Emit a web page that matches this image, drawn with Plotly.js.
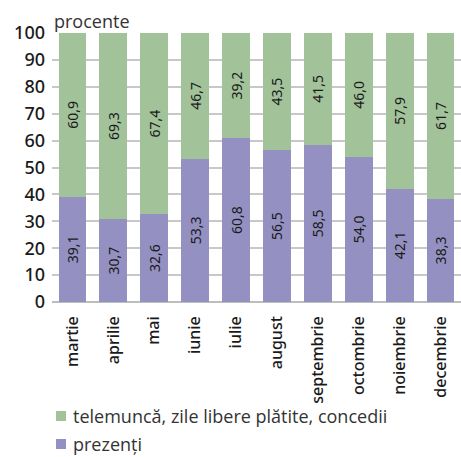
<!DOCTYPE html>
<html><head><meta charset="utf-8">
<script src="https://cdn.plot.ly/plotly-3.0.1.min.js"></script>
<style>html,body{margin:0;padding:0;background:#fff}#c{width:461px;height:457px}</style>
</head><body><div id="c"></div>
<script>
const months = ["martie","aprilie","mai","iunie","iulie","august","septembrie","octombrie","noiembrie","decembrie"];
const prezenti = [39.1,30.7,32.6,53.3,60.8,56.5,58.5,54.0,42.1,38.3];
const telemunca = [60.9,69.3,67.4,46.7,39.2,43.5,41.5,46.0,57.9,61.7];
const yTicks = [0,10,20,30,40,50,60,70,80,90,100];
const seriesNames = ['prezenți', 'telemuncă, zile libere plătite, concedii'];
const seriesColors = ['#9491c2', '#a2c29a'];
const cond = "Noto Sans";
const common = {type:'bar', x: months, texttemplate:'%{y:.1f}', textposition:'inside',
  insidetextanchor:'middle', textangle:-90, textfont:{family:cond, size:14, color:'#1a1a1a'},
  constraintext:'none', hoverinfo:'skip', showlegend:false};
const data = [
  Object.assign({}, common, {y: prezenti, name: seriesNames[0], marker:{color: seriesColors[0]}}),
  Object.assign({}, common, {y: telemunca, name: seriesNames[1], marker:{color: seriesColors[1]}})
];
// legend drawn in paper coordinates (plot: x 52..461 px, y 33..302 px)
const px = p => (p - 52) / 409;
const py = p => (302 - p) / 269;
const legendRows = [{i:1, cy:416}, {i:0, cy:444}];
const shapes = legendRows.map(r => ({type:'rect', xref:'paper', yref:'paper',
  x0: px(56), x1: px(66), y0: py(r.cy + 5), y1: py(r.cy - 5), fillcolor: seriesColors[r.i], line:{width:0}}));
const legendAnn = legendRows.map(r => ({text: seriesNames[r.i], xref:'paper', yref:'paper', x: px(71), y: py(r.cy),
  xanchor:'left', yanchor:'middle', showarrow:false, font:{family:"Open Sans", size:18, color:'#333'}}));
const layout = {
  width:461, height:457, barmode:'stack', bargap:0.32,
  separators:', ',
  margin:{l:52,r:0,t:33,b:155},
  paper_bgcolor:'#fff', plot_bgcolor:'#fff',
  font:{family:cond, color:'#1a1a1a'},
  showlegend:false,
  xaxis:{tickangle:-90, tickfont:{family:cond, size:16, weight:500, color:'#1a1a1a'}, showgrid:false, zeroline:false,
    showline:false, ticks:'', ticklabelstandoff:10, automargin:false},
  yaxis:{range:[0,100], tickvals:yTicks, ticktext:yTicks.map(String), tickfont:{family:cond, size:18, weight:500, color:'#1a1a1a'},
    showgrid:true, gridcolor:'#c8c8c8', gridwidth:2, zeroline:true, zerolinecolor:'#bdbdbd', zerolinewidth:2,
    ticks:'', ticklabelstandoff:6, automargin:false},
  shapes: shapes,
  annotations:[{text:'procente', xref:'paper', yref:'paper', x:0, y:1, xanchor:'left', yanchor:'bottom', yshift:-2,
    showarrow:false, font:{family:"Open Sans", size:18, color:'#333'}}].concat(legendAnn)
};
Plotly.newPlot('c', data, layout, {displayModeBar:false, staticPlot:true});
</script></body></html>
